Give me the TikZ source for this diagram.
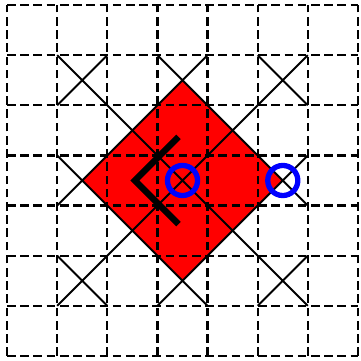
\documentclass[tikz,border=0pt]{standalone}
\usepackage{xcolor}
\begin{document}
\begin{tikzpicture}[
  gridline/.style={line width=1.3pt, dash pattern=on 4.9pt off 2.6pt},
  cross/.style={line width=1.1pt},
  ring/.style={blue, line width=3pt}]
  \useasboundingbox (-0.14,-0.1) rectangle (7.06,7.1);
  \coordinate (L) at (1.5,3.5); \coordinate (T) at (3.5,5.5);
  \coordinate (R) at (5.5,3.5); \coordinate (B) at (3.5,1.5);
  \fill[red] (L)--(T)--(R)--(B)--cycle;
  \draw[gridline] (0,0) grid (7,7);
  \foreach \i/\j in {1/1,1/3,1/5,2/2,2/4,3/1,3/3,3/5,4/2,4/4,5/1,5/3,5/5}
    \draw[cross] (\i,\j) -- ++(1,1) (\i,\j+1) -- ++(1,-1);
  \draw[line width=3.6pt] (3.42,4.37) -- (2.55,3.5) -- (3.42,2.63);
  \coordinate (P) at (3.5,3.5); \coordinate (Q) at (5.5,3.5);
  \draw[ring] (P) circle (0.3); \draw[ring] (Q) circle (0.3);
\end{tikzpicture}
\end{document}
